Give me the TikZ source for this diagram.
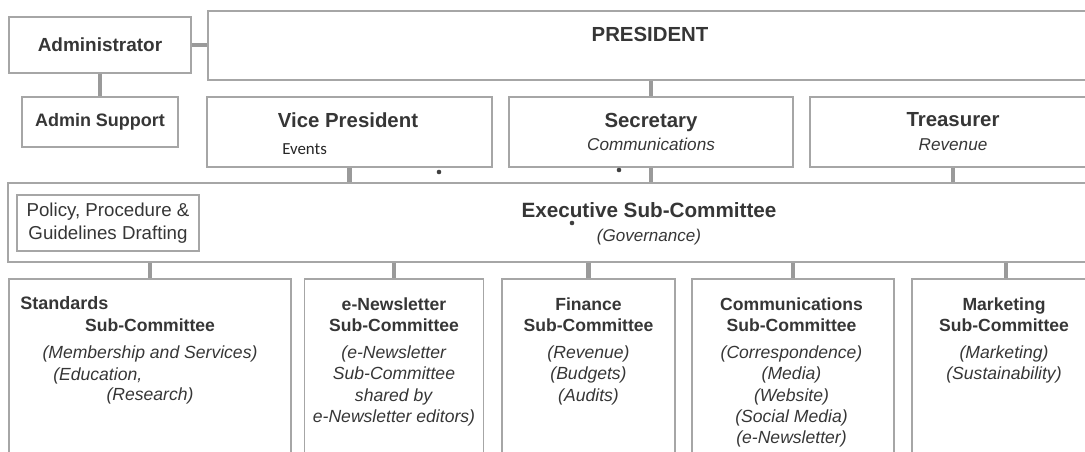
\documentclass[tikz,border=0pt]{standalone}
\usepackage{fontspec}
\setmainfont{Liberation Sans}
\newfontfamily\eventsfont{Carlito}
\usetikzlibrary{positioning}

\definecolor{boxgray}{HTML}{A6A6A6}
\definecolor{linkgray}{HTML}{9A9A9A}
\definecolor{inkgray}{HTML}{363636}

\tikzset{
	box/.style={draw=boxgray, line width=1.3pt, inner sep=0pt, text=inkgray, align=center},
	sz/.style 2 args={minimum width=#1*0.025cm, minimum height=#2*0.025cm},
	link/.style={draw=linkgray, line width=3pt},
	txt/.style={inner sep=0pt, text=inkgray, align=center},
	subtxt/.style={txt, anchor=north, font=\fontsize{12.5}{15.2}\selectfont},
	headfont/.style={font=\fontsize{14.5}{17}\selectfont\bfseries},
}
\newcommand{\boldln}[1]{\textbf{#1}}
\newcommand{\itln}[1]{\textit{#1}}

\begin{document}
\begin{tikzpicture}[x=0.025cm, y=-0.025cm]
	%%%%% START %%%%%
	\useasboundingbox (0,0) rectangle (1085,452);
	\clip (0,0) rectangle (1085,452);
	
	% top row
	\node[box, sz={182}{56}, font=\fontsize{13.5}{16}\selectfont\bfseries] (admin) at (100,45) {Administrator};
	\node[box, sz={156}{50}, font=\fontsize{12.8}{15}\selectfont\bfseries] (support) at (100,122) {Admin Support};
	\node[box, sz={892}{69}] (pres) at (654,45.5) {};
	\node[txt, headfont, anchor=base] (prestxt) at (650,42) {PRESIDENT};
	
	% officers
	\node[box, sz={285}{70}] (vp) at (349.5,132) {};
	\node[txt, headfont, anchor=base] (vptxt) at (348,128) {Vice President};
	\node[txt, anchor=base west, text=black!85, font=\eventsfont\fontsize{12}{14}\selectfont] (vpev) at (282,155) {Events};
	\node[box, sz={284}{70}, font=\fontsize{14.5}{17}\selectfont] (sec) at (651,132) {\textbf{Secretary}\\{\fontsize{12.2}{17}\selectfont\itshape Communications}};
	\node[box, sz={286}{70}, font=\fontsize{14.5}{17}\selectfont] (treas) at (953,132) {\textbf{Treasurer}\\{\fontsize{12.2}{17}\selectfont\itshape Revenue}};
	
	% executive
	\node[box, sz={1087}{79}] (exec) at (551.5,222.5) {};
	\node[txt, font=\fontsize{14.7}{17}\selectfont] (exectxt) at (649,224) {\textbf{Executive Sub-Committee}\\{\fontsize{12.1}{17}\selectfont\itshape (Governance)}};
	\node[box, sz={182}{56}, font=\fontsize{13.3}{16.4}\selectfont] (policy) at (108,223) {Policy, Procedure \&\\Guidelines Drafting};
	
	% sub-committees
	\node[box, sz={282}{182}] (std) at (150,370) {};
	\node[box, sz={179}{182}] (enews) at (394,370) {};
	\node[box, sz={173}{182}] (fin) at (588.5,370) {};
	\node[box, sz={202}{182}] (comm) at (793,370) {};
	\node[box, sz={188}{182}] (mkt) at (1006,370) {};
	
	\node[txt, anchor=base west, font=\fontsize{12.8}{15}\selectfont\bfseries] (stdhd) at (20,310) {Standards};
	\node[subtxt] (stdtxt) at (150,318) {\boldln{Sub-Committee}\\[4pt]\itln{(Membership and Services)}\\[15.2pt]\itln{(Research)}};
	\node[txt, anchor=base west, font=\fontsize{12.5}{15}\selectfont\itshape] (stdedu) at (53,380) {(Education,};
	\node[subtxt] (enewstxt) at (394,297) {\boldln{e-Newsletter}\\\boldln{Sub-Committee}\\[4pt]\itln{(e-Newsletter}\\\itln{Sub-Committee}\\\itln{shared by}\\\itln{e-Newsletter editors)}};
	\node[subtxt] (fintxt) at (588.5,297) {\boldln{Finance}\\\boldln{Sub-Committee}\\[4pt]\itln{(Revenue)}\\\itln{(Budgets)}\\\itln{(Audits)}};
	\node[subtxt] (commtxt) at (791.5,297) {\boldln{Communications}\\\boldln{Sub-Committee}\\[4pt]\itln{(Correspondence)}\\\itln{(Media)}\\\itln{(Website)}\\\itln{(Social Media)}\\\itln{(e-Newsletter)}};
	\node[subtxt] (mkttxt) at (1004,297) {\boldln{Marketing}\\\boldln{Sub-Committee}\\[4pt]\itln{(Marketing)}\\\itln{(Sustainability)}};
	
	% connectors
	\draw[link] (admin.east) -- (admin.east -| pres.west);
	\draw[link] (admin.south) -- (support.north);
	\draw[link] (pres.south -| sec.north) -- (sec.north);
	\draw[link] (vp.south) -- (vp.south |- exec.north);
	\draw[link] (sec.south) -- (sec.south |- exec.north);
	\draw[link] (treas.south) -- (treas.south |- exec.north);
	\foreach \c in {std,enews,fin,comm,mkt}
		\draw[link] (\c.north |- exec.south) -- (\c.north);
	
	% stray dots
	\fill[black!75] (439,172) circle (2.3);
	\fill[black!75] (619,170) circle (2.3);
	\fill[black!75] (572,223) circle (2.3);
	
	%%%%% END %%%%%
\end{tikzpicture}
\end{document}
